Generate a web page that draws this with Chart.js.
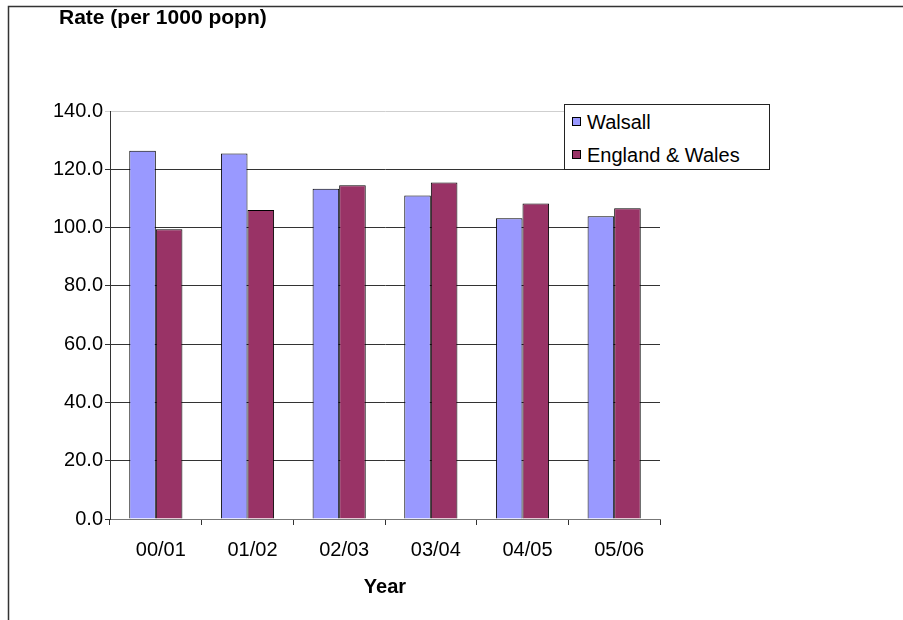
<!DOCTYPE html>
<html>
<head>
<meta charset="utf-8">
<script src="https://cdn.jsdelivr.net/npm/chart.js@4/dist/chart.umd.min.js"></script>
<style>
  html, body { margin: 0; padding: 0; background: #fff; }
  #wrap { position: relative; width: 903px; height: 620px; }
  #legend {
    position: absolute; left: 564px; top: 104px; width: 204px; height: 64px;
    border: 1px solid #222; background: #fff;
    font-family: 'Liberation Sans', Arial, sans-serif; font-size: 20px; color: #000;
  }
  #legend .item { position: absolute; left: 7px; height: 24px; line-height: 24px; white-space: nowrap; }
  #legend .sw { display: inline-block; width: 7px; height: 7px; border: 1px solid #000; vertical-align: middle; margin-right: 6px; position: relative; top: -2px; }
</style>
</head>
<body>
<div id="wrap">
  <canvas id="c" width="903" height="620"></canvas>
  <div id="legend"></div>
</div>
<script>
const categories = ['00/01', '01/02', '02/03', '03/04', '04/05', '05/06'];
const walsall = [126.4, 125.4, 113.3, 111.0, 103.2, 103.9];
const englandWales = [99.4, 106.0, 114.5, 115.5, 108.3, 106.6];
const seriesNames = ['Walsall', 'England & Wales'];
const yTitle = 'Rate (per 1000 popn)';
const xTitle = 'Year';

const FONT = "'Liberation Sans', Arial, sans-serif";

const framePlugin = {
  id: 'frame',
  beforeDraw(chart) {
    const ctx = chart.ctx;
    ctx.save();
    ctx.strokeStyle = '#333';
    ctx.lineWidth = 1.5;
    ctx.beginPath();
    ctx.moveTo(903, 6.5);
    ctx.lineTo(8.5, 6.5);
    ctx.lineTo(8.5, 620);
    ctx.stroke();
    ctx.fillStyle = '#000';
    ctx.font = 'bold 21px ' + FONT;
    ctx.textBaseline = 'alphabetic';
    ctx.textAlign = 'left';
    ctx.fillText(yTitle, 59, 24);
    ctx.restore();
  }
};

const chart = new Chart(document.getElementById('c'), {
  type: 'bar',
  data: {
    labels: categories,
    datasets: [
      { label: seriesNames[0], data: walsall, backgroundColor: '#9999FF', borderColor: '#000', borderWidth: 1 },
      { label: seriesNames[1], data: englandWales, backgroundColor: '#993366', borderColor: '#000', borderWidth: 1 }
    ]
  },
  options: {
    responsive: false,
    animation: false,
    devicePixelRatio: 1,
    layout: { padding: { left: 0, top: 111, right: 243, bottom: 0 } },
    datasets: { bar: { categoryPercentage: 0.58, barPercentage: 1.0 } },
    plugins: {
      legend: { display: false },
      title: { display: false },
      tooltip: { enabled: false }
    },
    scales: {
      x: {
        afterFit(scale) { scale.height = 101; },
        grid: { drawOnChartArea: false, drawTicks: true, tickLength: 6, color: '#333', offset: true },
        border: { display: true, color: '#777', width: 1 },
        ticks: { color: '#000', font: { family: FONT, size: 20 }, padding: 13, maxRotation: 0, labelOffset: 5 },
        title: { display: true, text: xTitle, color: '#000', font: { family: FONT, size: 20, weight: 'bold' }, padding: { top: 4, bottom: 21 } }
      },
      y: {
        min: 0, max: 140,
        afterFit(scale) { scale.width = 110; },
        grid: {
          color: (c) => (c.tick && c.tick.value === 140) ? '#cfcfcf' : '#333',
          drawTicks: true, tickLength: 5
        },
        border: { display: true, color: '#333', width: 1 },
        ticks: {
          stepSize: 20, color: '#000', font: { family: FONT, size: 20 }, padding: 2,
          callback: (v) => Number(v).toFixed(1)
        }
      }
    }
  },
  plugins: [framePlugin]
});

// HTML legend built from the chart's datasets
const legend = document.getElementById('legend');
chart.data.datasets.forEach((ds, i) => {
  const item = document.createElement('div');
  item.className = 'item';
  item.style.top = (5 + i * 33) + 'px';
  const sw = document.createElement('span');
  sw.className = 'sw';
  sw.style.background = ds.backgroundColor;
  item.appendChild(sw);
  item.appendChild(document.createTextNode(ds.label));
  legend.appendChild(item);
});
</script>
</body>
</html>
